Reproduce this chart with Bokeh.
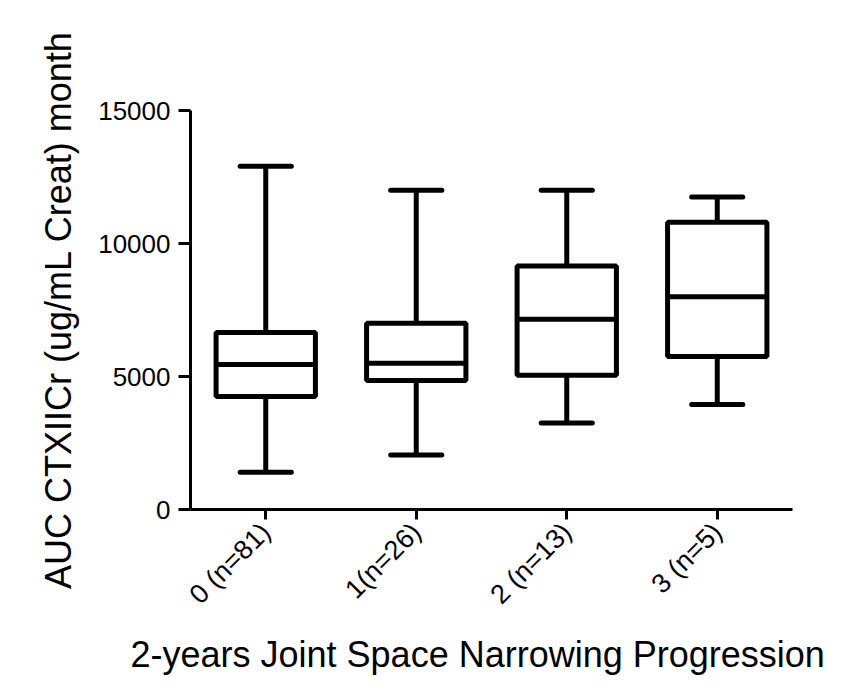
from math import pi
from bokeh.plotting import figure
from bokeh.models import FactorRange, Range1d, FixedTicker, NumeralTickFormatter, Title
from bokeh.embed import file_html
from bokeh.resources import INLINE

# ---- data ----
categories = ["0 (n=81)", "1(n=26)", "2 (n=13)", "3 (n=5)"]
whisker_low = [1400, 2050, 3250, 3950]
q1 = [4250, 4850, 5050, 5750]
median = [5450, 5500, 7150, 8000]
q3 = [6650, 7000, 9150, 10800]
whisker_high = [12900, 12000, 12000, 11750]
y_ticks = [0, 5000, 10000, 15000]
x_title = "2-years Joint Space  Narrowing Progression"
y_title = "AUC CTXIICr (ug/mL Creat) month"

FONT = "Liberation Sans"
BOX_W = 0.66
CAP_W = 0.34
LW = 5

p = figure(
    width=838, height=684,
    x_range=FactorRange(factors=categories, range_padding=0),
    y_range=Range1d(0, 15000),
    output_backend="svg", toolbar_location=None,
    min_border_left=190, min_border_right=46,
    min_border_top=110, min_border_bottom=175,
)
p.outline_line_color = None
p.grid.visible = False
p.background_fill_color = "white"
p.border_fill_color = "white"

# whiskers
p.segment(x0=categories, x1=categories, y0=q3, y1=whisker_high,
          line_color="black", line_width=LW)
p.segment(x0=categories, x1=categories, y0=q1, y1=whisker_low,
          line_color="black", line_width=LW)
# caps
cap_l = [(c, -CAP_W / 2) for c in categories]
cap_r = [(c, CAP_W / 2) for c in categories]
p.segment(x0=cap_l, x1=cap_r, y0=whisker_high, y1=whisker_high,
          line_color="black", line_width=LW, line_cap="round")
p.segment(x0=cap_l, x1=cap_r, y0=whisker_low, y1=whisker_low,
          line_color="black", line_width=LW, line_cap="round")
# boxes
p.vbar(x=categories, bottom=q1, top=q3, width=BOX_W,
       fill_color="white", line_color="black", line_width=LW)
# medians
med_l = [(c, -BOX_W / 2) for c in categories]
med_r = [(c, BOX_W / 2) for c in categories]
p.segment(x0=med_l, x1=med_r, y0=median, y1=median,
          line_color="black", line_width=LW)

# axes
for ax in (p.xaxis[0], p.yaxis[0]):
    ax.axis_line_color = "black"
    ax.axis_line_width = 3
    ax.major_tick_line_color = "black"
    ax.major_tick_line_width = 3
    ax.major_tick_in = 0
    ax.minor_tick_line_color = None
    ax.major_label_text_font = FONT
    ax.major_label_text_font_size = "26px"
    ax.major_label_text_font_style = "normal"
    ax.major_label_text_color = "black"
    ax.axis_label_text_font = FONT
    ax.axis_label_text_font_size = "36px"
    ax.axis_label_text_font_style = "normal"
    ax.axis_label_text_color = "black"

p.yaxis.ticker = FixedTicker(ticks=y_ticks)
p.yaxis.formatter = NumeralTickFormatter(format="0")
p.yaxis.major_tick_out = 12
p.yaxis.major_label_standoff = 8
p.yaxis.axis_label = y_title
p.yaxis.axis_label_standoff = 16

p.xaxis.major_tick_out = 10
p.xaxis.major_label_orientation = pi / 4
p.xaxis.major_label_standoff = 8
p.xaxis.major_label_text_font_size = "27px"

xt = Title(text=x_title, align="left", offset=-60, standoff=17,
           text_font=FONT, text_font_size="36px", text_font_style="normal",
           text_color="black")
p.add_layout(xt, "below")

open("out.html", "w").write(file_html(p, INLINE))
